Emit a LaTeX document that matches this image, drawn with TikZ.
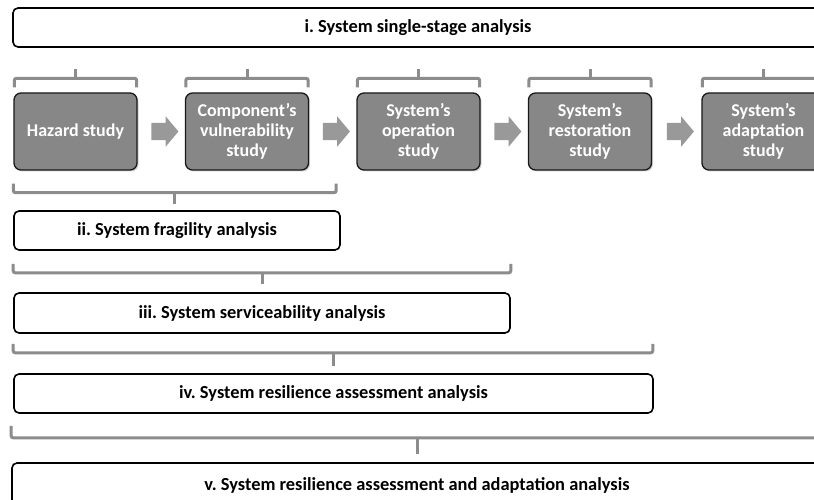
\documentclass[tikz,border=0pt]{standalone}
\usepackage{fontspec}
\setmainfont{Carlito}
\usetikzlibrary{shapes.arrows,shadows,calc}
\definecolor{boxgray}{HTML}{878787}
\definecolor{brkgray}{HTML}{8C8C8C}
\definecolor{arrgray}{HTML}{999999}
\frenchspacing
\tikzset{
  anabox/.style={draw=black, line width=1.6pt, rounded corners=5pt, fill=white,
    font=\bfseries\fontsize{18.4}{20}\selectfont, inner sep=0pt},
  studybox/.style={draw=black!90, line width=1.3pt, rounded corners=7pt, fill=boxgray,
    text=white, font=\bfseries\fontsize{18}{20}\selectfont, align=center,
    minimum width=123pt, minimum height=77pt, inner sep=1pt,
    drop shadow={shadow xshift=1.5pt, shadow yshift=-1.5pt, opacity=0.35}},
  brk/.style={draw=brkgray, line width=3pt, rounded corners=2pt},
  blockarrow/.style={single arrow, fill=arrgray, draw=none, minimum height=27pt,
    minimum width=30pt, single arrow head extend=6.5pt, inner sep=8.5pt,
    single arrow tip angle=100},
}
\begin{document}
\begin{tikzpicture}[x=1pt,y=-1pt]
\useasboundingbox (0,0) rectangle (814,500);
\clip (0,0) rectangle (814,500);
% analysis boxes
\node[anabox, minimum width=810pt, minimum height=39pt] (i) at (418,27.5) {i. System single-stage analysis};
\node[anabox, minimum width=326pt, minimum height=39pt] (ii) at (177,230.5) {ii. System fragility analysis};
\node[anabox, minimum width=496pt, minimum height=40pt] (iii) at (262,313) {iii. System serviceability analysis};
\node[anabox, minimum width=639pt, minimum height=39pt] (iv) at (333.5,393.5) {iv. System resilience assessment analysis};
\node[anabox, minimum width=810pt, minimum height=44pt] (v) at (417,485) {v. System resilience assessment and adaptation analysis};
% study boxes
\node[studybox] (b1) at (75.5,131.5) {Hazard study};
\node[studybox] (b2) at (247,131.5) {Component’s\\vulnerability\\study};
\node[studybox] (b3) at (418.5,131.5) {System’s\\operation\\study};
\node[studybox] (b4) at (590,131.5) {System’s\\restoration\\study};
\node[studybox] (b5) at (763.5,131.5) {System’s\\adaptation\\study};
% arrows
\node[blockarrow] (a1) at ($(b1.east)!0.5!(b2.west)$) {};
\node[blockarrow] (a2) at ($(b2.east)!0.5!(b3.west)$) {};
\node[blockarrow] (a3) at ($(b3.east)!0.5!(b4.west)$) {};
\node[blockarrow] (a4) at ($(b4.east)!0.5!(b5.west)$) {};
% brackets above study boxes
\foreach \b in {b1,b2,b3,b4,b5}{
  \draw[brk] ([xshift=1pt,yshift=5pt]\b.north west) -- ++(0,-9) -| ([xshift=-1pt,yshift=5pt]\b.north east);
  \draw[brk] ([yshift=14pt]\b.north) -- ++(0,-9);
}
% bracket under b1-b2 -> ii
\coordinate (k1L) at ([yshift=-13pt]b1.south west);
\coordinate (k1R) at ([xshift=27pt,yshift=-13pt]b2.south east);
\draw[brk] (k1L) -- ++(0,9) -| (k1R);
\draw[brk] ($(k1L)!0.5!(k1R)+(0,9)$) -- ++(0,11);
% bracket under ii -> iii
\coordinate (k2L) at ([yshift=-13pt]ii.south west);
\coordinate (k2R) at (iii.east |- k2L);
\draw[brk] (k2L) -- ++(0,9) -| (k2R);
\draw[brk] ($(k2L)!0.5!(k2R)+(0,9)$) -- ++(0,11);
% bracket under iii -> iv
\coordinate (k3L) at ([yshift=-10pt]iii.south west);
\coordinate (k3R) at ([xshift=-1pt]iv.east |- k3L);
\draw[brk] (k3L) -- ++(0,9) -| (k3R);
\draw[brk] ($(k3L)!0.5!(k3R)+(0,9)$) -- ++(0,13);
% bracket under iv -> v
\coordinate (k4L) at ([xshift=-2pt,yshift=-12pt]iv.south west);
\coordinate (k4R) at ([yshift=-12pt]v.south east |- iv.south);
\draw[brk] (k4L) -- ++(0,12) -| (k4R);
\draw[brk] ($(k4L)!0.5!(k4R)+(0,12)$) -- ++(0,16);
\end{tikzpicture}
\end{document}
